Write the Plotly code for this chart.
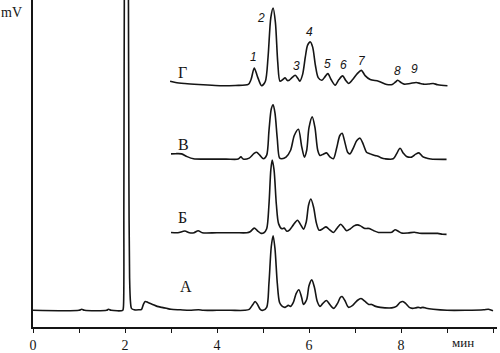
import plotly.graph_objects as go

# ---- Data (time in minutes, signal in arbitrary mV units) ----
a_time = [0.0, 1.0, 1.06, 1.12, 1.6, 1.64, 1.7, 1.95, 1.965, 1.975, 1.985, 2.03, 2.075, 2.085, 2.1, 2.12, 2.14,
          2.2, 2.3, 2.36, 2.4, 2.44, 2.5, 2.6, 2.7, 2.8, 2.9, 3.0, 3.2, 3.4, 3.6, 3.7, 4.0, 4.3, 4.6, 4.7,
          4.78, 4.83, 4.88, 4.94, 5.0, 5.08, 5.13, 5.18, 5.22, 5.26, 5.31, 5.36, 5.42, 5.48, 5.55, 5.6, 5.66,
          5.72, 5.78, 5.84, 5.88, 5.95, 6.0, 6.06, 6.12, 6.18, 6.24, 6.3, 6.38, 6.45, 6.54, 6.62, 6.68, 6.72,
          6.78, 6.86, 6.95, 7.05, 7.13, 7.22, 7.3, 7.36, 7.45, 7.55, 7.65, 7.8, 7.9, 7.98, 8.04, 8.1, 8.18,
          8.25, 8.32, 8.37, 8.42, 8.48, 8.55, 8.7, 9.0, 9.4, 9.8, 9.9, 10.0]
a_signal = [17, 17, 18, 17, 17, 18, 17, 17, 20, 120, 330, 900, 330, 150, 50, 25, 19,
            17.5, 17.5, 18, 23, 26, 25, 23, 21, 20, 19, 18, 17.5, 17, 17.5, 17, 17, 17, 17, 18,
            23, 26, 23, 18, 17, 20, 45, 82, 93, 80, 45, 25, 21, 20, 22, 21, 25,
            34, 38, 30, 23, 28, 42, 48, 40, 26, 21, 24, 27, 23, 19, 24, 30, 31,
            27, 20, 22, 27, 29, 26, 23, 23, 21, 20, 19.5, 19.5, 21, 25, 26, 24, 20,
            19, 19.5, 20, 19.5, 20, 19, 18, 17, 17, 17.5, 18, 16.5]

b_time = [3.0, 3.15, 3.3, 3.4, 3.5, 3.59, 3.68, 4.0, 4.4, 4.65, 4.72, 4.81, 4.88, 4.95, 5.02, 5.08, 5.13,
          5.17, 5.2, 5.24, 5.29, 5.34, 5.41, 5.46, 5.52, 5.58, 5.66, 5.75, 5.82, 5.88, 5.94, 5.99, 6.04,
          6.1, 6.16, 6.22, 6.3, 6.37, 6.45, 6.53, 6.6, 6.69, 6.76, 6.82, 6.9, 6.98, 7.05, 7.12, 7.2, 7.31,
          7.41, 7.51, 7.62, 7.8, 7.87, 7.94, 8.01, 8.15, 8.29, 8.4, 8.6, 8.8, 8.9, 8.99]
b_signal = [96.3, 96, 97.7, 96, 96, 98, 96, 96, 96, 96, 97, 100.7, 98, 95.5, 96, 100, 125,
            160, 170, 160, 125, 105, 100, 100.7, 97.5, 99, 104, 108.7, 104, 99.7, 107, 124, 130.3,
            122, 106, 98.5, 100, 102, 99, 96.3, 100, 104.7, 101, 98, 100, 103, 104, 103, 100.5, 100.3,
            98, 96.3, 96.3, 96.5, 99, 97.5, 95.7, 95.7, 96.5, 95.5, 95.3, 95.3, 94.5, 94.3]

v_time = [3.0, 3.1, 3.23, 3.35, 3.49, 3.8, 4.2, 4.46, 4.52, 4.57, 4.7, 4.8, 4.86, 4.93, 5.01, 5.08, 5.13,
          5.18, 5.22, 5.26, 5.31, 5.36, 5.41, 5.5, 5.6, 5.68, 5.77, 5.84, 5.9, 5.95, 6.0, 6.07, 6.13, 6.19,
          6.24, 6.31, 6.38, 6.46, 6.53, 6.6, 6.67, 6.72, 6.78, 6.84, 6.89, 6.97, 7.04, 7.11, 7.18, 7.25,
          7.33, 7.43, 7.5, 7.58, 7.65, 7.83, 7.9, 7.98, 8.05, 8.12, 8.23, 8.32, 8.39, 8.47, 8.56, 8.65, 8.99]
v_signal = [176.3, 176.5, 176.3, 173.5, 171.3, 171, 171, 171, 173.3, 171, 172, 176.5, 178, 175, 171.3, 175, 200,
            222, 226.3, 218, 192, 172, 171.3, 173, 180, 195, 201.3, 184, 173, 180, 203, 214, 203, 180,
            174.7, 176, 177.3, 173, 171.3, 182, 195, 197.3, 188, 178, 176.3, 183, 190, 192.3, 186, 178,
            176.3, 174.7, 174, 172, 171.3, 171.3, 176, 182, 177, 173.7, 173, 176, 177.3, 173.5, 172, 171, 170.7]

g_time = [2.98, 3.1, 3.3, 3.6, 3.8, 4.1, 4.4, 4.68, 4.74, 4.81, 4.88, 4.97, 5.05, 5.11, 5.17, 5.22, 5.27,
          5.32, 5.37, 5.43, 5.48, 5.53, 5.57, 5.63, 5.7, 5.76, 5.8, 5.86, 5.92, 5.97, 6.03, 6.08, 6.14,
          6.2, 6.28, 6.35, 6.41, 6.48, 6.57, 6.65, 6.73, 6.8, 6.86, 6.95, 7.05, 7.14, 7.22, 7.33, 7.51,
          7.69, 7.81, 7.88, 7.93, 8.0, 8.07, 8.2, 8.33, 8.42, 8.49, 8.6, 8.7, 8.8, 9.01]
g_signal = [250.3, 249, 248, 247, 246.5, 245.7, 246, 247, 252, 263.7, 255, 245.7, 250, 275, 315, 324.7, 310,
            270, 250.3, 252, 253.7, 251, 251.3, 254, 256.3, 253, 250.3, 257, 275, 287, 290.3, 285, 266.3,
            254, 251.3, 255, 258, 252, 246.3, 252, 255.7, 251, 248, 252, 258, 261.3, 256, 252, 250.3,
            247, 247, 249.5, 251.3, 249, 247.3, 248, 249, 248, 247.3, 247.5, 248, 246.7, 245.7]

tick_values = [0, 1, 2, 3, 4, 5, 6, 7, 8, 9, 10]
tick_labels = ["0", "", "2", "", "4", "", "6", "", "8", "", ""]

series_labels = ["Г", "В", "Б", "А"]
peak_numbers = ["1", "2", "3", "4", "5", "6", "7", "8", "9"]

# ---- Figure ----
ink = "#151515"
fig = go.Figure()
for t, s in [(a_time, a_signal), (b_time, b_signal), (v_time, v_signal), (g_time, g_signal)]:
    fig.add_trace(go.Scatter(x=t, y=s, mode="lines",
                             line=dict(color=ink, width=1.6, shape="spline", smoothing=0.8),
                             showlegend=False, hoverinfo="skip"))

serif = "Liberation Serif, Times New Roman, serif"
sans = "Liberation Sans, Arial, sans-serif"

series_pos = [(3.26, 259), (3.28, 186), (3.24, 112), (3.33, 41)]
for lab, (x, y) in zip(series_labels, series_pos):
    fig.add_annotation(x=x, y=y, text=lab, showarrow=False,
                       font=dict(family=serif, size=16, color=ink))

peak_pos = [(4.80, 275), (4.96, 315), (5.72, 266), (6.02, 300), (6.41, 268),
            (6.76, 267), (7.15, 271), (7.93, 261), (8.30, 263)]
for lab, (x, y) in zip(peak_numbers, peak_pos):
    fig.add_annotation(x=x, y=y, text="<i>" + lab + "</i>", showarrow=False,
                       font=dict(family=sans, size=12, color=ink))

fig.add_annotation(xref="paper", yref="paper", x=-0.047, y=0.961, text="mV", showarrow=False,
                   xanchor="center", yanchor="middle",
                   font=dict(family=serif, size=14, color=ink))
fig.add_annotation(xref="paper", yref="paper", x=0.927, y=-0.047, text="мин", showarrow=False,
                   xanchor="center", yanchor="middle",
                   font=dict(family=serif, size=13, color=ink))

fig.update_layout(
    width=500, height=353,
    margin=dict(l=33, r=3, t=0, b=20),
    paper_bgcolor="white", plot_bgcolor="white",
    xaxis=dict(range=[0, 10.087], showgrid=False, zeroline=False,
               showline=True, linecolor=ink, linewidth=1.6,
               ticks="outside", ticklen=4, tickwidth=1.2, tickcolor=ink,
               tickvals=tick_values, ticktext=tick_labels,
               tickfont=dict(family=serif, size=14, color=ink)),
    yaxis=dict(range=[0, 333], showgrid=False, zeroline=False,
               showline=True, linecolor=ink, linewidth=1.6,
               showticklabels=False, ticks=""),
)

fig.write_html("out.html")
